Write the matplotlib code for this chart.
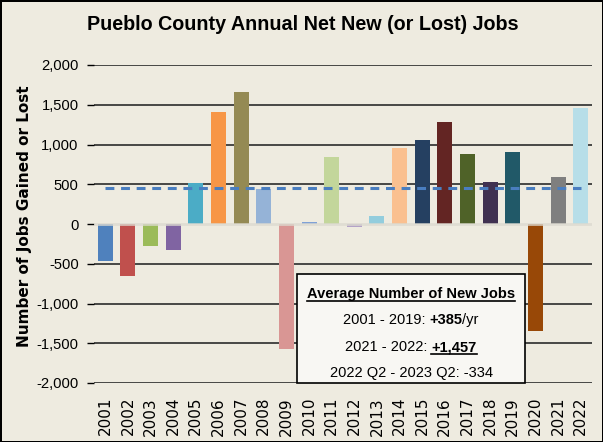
import matplotlib
matplotlib.use('Agg')
import matplotlib.pyplot as plt
from matplotlib.patches import Rectangle
from matplotlib.lines import Line2D
from matplotlib.transforms import IdentityTransform

# data
years = [str(y) for y in range(2001, 2023)]
net_jobs = [-460, -660, -275, -325, 515, 1410, 1660, 440, -1570, 25, 845,
            -35, 100, 955, 1055, 1280, 880, 530, 905, -1345, 590, 1457]
avg_line = 455
bar_colors = ['#4F81BD', '#C0504D', '#9BBB59', '#8064A2', '#4BACC6', '#F79646',
              '#948A54', '#95B3D7', '#D99694', '#7FA1D6', '#C3D69B', '#B3A2C7',
              '#93CDDD', '#FAC090', '#254061', '#632523', '#4F6228', '#403151',
              '#215968', '#984807', '#7F7F7F', '#B7DEE8']
yticks = [-2000, -1500, -1000, -500, 0, 500, 1000, 1500, 2000]

sans = 'Liberation Sans'
bg = '#EEEBE0'
W, H = 603, 442

fig = plt.figure(figsize=(W / 100, H / 100), dpi=100)
fig.patch.set_facecolor(bg)
fig.patch.set_edgecolor('black')
fig.patch.set_linewidth(2)

ax = fig.add_axes([94 / W, 1 - 383 / H, (592 - 94) / W, (383 - 65) / H])
ax.set_facecolor(bg)

x = list(range(len(years)))
ax.bar(x, net_jobs, width=0.66, color=bar_colors, zorder=3)
ax.plot([0, len(years) - 1], [avg_line, avg_line], color='#4A7EC0', lw=2.2,
        linestyle=(0, (2.9, 2.2)), zorder=4)
ax.axhline(0, color='#DCDAD0', lw=2, alpha=0.8, zorder=4)

ax.set_xlim(-0.5, len(years) - 0.5)
ax.set_ylim(-2000, 2000)
ax.set_yticks(yticks)
ax.set_yticklabels([f'{v:,}' for v in yticks], family=sans, fontsize=10.6)
ax.set_xticks(x)
ax.set_xticklabels(years, rotation=90, fontsize=11, family='DejaVu Sans')
ax.tick_params(axis='x', length=0, pad=10)
ax.tick_params(axis='y', length=5, width=1, color='black', pad=6)
for v in yticks:
    if v != 0:
        ax.axhline(v, color='#2b2b2b', lw=1.2, zorder=1)
for s in ax.spines.values():
    s.set_visible(False)

fig.text(303 / W, 1 - 30 / H, 'Pueblo County Annual Net New (or Lost) Jobs',
         ha='center', va='baseline', fontsize=14.2, fontweight='bold', family=sans)
fig.text(25 / W, 1 - 216 / H, 'Number of Jobs Gained or Lost', rotation=90,
         ha='center', va='center', fontsize=11, fontweight='bold', family='DejaVu Sans')

# summary box
fig.add_artist(Rectangle((297 / W, 1 - 383 / H), (525 - 297) / W, (383 - 274) / H,
                         transform=fig.transFigure, facecolor='#F8F7F3',
                         edgecolor='black', lw=1.2, zorder=5))

renderer = fig.canvas.get_renderer()
box_fs = 10.5


def text_line(pieces, cx, y):
    # pieces: (text, bold, underline, gap_before)
    arts = []
    for s, bold, ul, gap in pieces:
        t = fig.text(0, 0, s, fontsize=box_fs, family=sans,
                     fontweight='bold' if bold else 'normal',
                     ha='left', va='baseline', transform=IdentityTransform(), zorder=6)
        arts.append((t, ul, gap))
    widths = [t.get_window_extent(renderer).width for t, _, _ in arts]
    total = sum(widths) + sum(g for _, _, g in arts)
    xx = cx - total / 2
    yd = H - y
    for (t, ul, gap), w in zip(arts, widths):
        xx += gap
        t.set_position((xx, yd))
        if ul:
            fig.add_artist(Line2D([xx, xx + w], [yd - 3, yd - 3], transform=IdentityTransform(),
                                  color='black', lw=1.2, zorder=6))
        xx += w


sp = 3.5
text_line([('Average Number of New Jobs', True, True, 0)], 411, 298)
text_line([('2001 - 2019:', False, False, 0), ('+385', True, False, sp),
           ('/yr', False, False, 0)], 411, 324)
text_line([('2021 - 2022:', False, False, 0), ('+1,457', True, True, sp)], 411, 351)
text_line([('2022 Q2 - 2023 Q2: -334', False, False, 0)], 411, 377)

fig.savefig('out.png', dpi=100, facecolor=bg, edgecolor='black')
